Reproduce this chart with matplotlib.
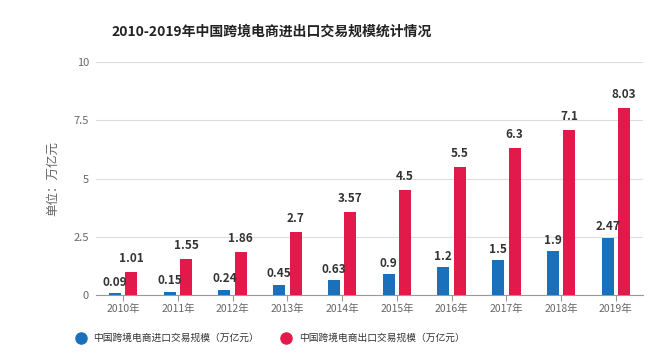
import matplotlib

matplotlib.use("Agg")
import matplotlib.pyplot as plt
import numpy as np
from matplotlib.lines import Line2D

plt.rcParams["font.family"] = ["Noto Sans CJK SC", "DejaVu Sans"]

# 数据（万亿元）
nian = ["2010年", "2011年", "2012年", "2013年", "2014年",
        "2015年", "2016年", "2017年", "2018年", "2019年"]
jinkou = [0.09, 0.15, 0.24, 0.45, 0.63, 0.9, 1.2, 1.5, 1.9, 2.47]
chukou = [1.01, 1.55, 1.86, 2.7, 3.57, 4.5, 5.5, 6.3, 7.1, 8.03]
jinkou_lab = ["0.09", "0.15", "0.24", "0.45", "0.63", "0.9", "1.2", "1.5", "1.9", "2.47"]
chukou_lab = ["1.01", "1.55", "1.86", "2.7", "3.57", "4.5", "5.5", "6.3", "7.1", "8.03"]
y_ticks = [0, 2.5, 5, 7.5, 10]
y_tick_lab = ["0", "2.5", "5", "7.5", "10"]

LAN = "#1a70ba"
HONG = "#e2194b"
HUI = "#666666"

fig = plt.figure(figsize=(6.7, 3.59), dpi=100)
ax = fig.add_axes([0.143, 0.178, 0.817, 0.649])

x = np.arange(len(nian))
w = 0.22
ax.bar(x - 0.15, jinkou, w, color=LAN, zorder=3)
ax.bar(x + 0.15, chukou, w, color=HONG, zorder=3)

for xi, v, s in zip(x, jinkou, jinkou_lab):
    ax.annotate(s, (xi - 0.15, v), textcoords="offset points", xytext=(0, 3),
                ha="center", va="bottom", fontsize=8.5, fontweight="bold",
                color="#333333", zorder=4)
for xi, v, s in zip(x, chukou, chukou_lab):
    ax.annotate(s, (xi + 0.15, v), textcoords="offset points", xytext=(0, 5),
                ha="center", va="bottom", fontsize=8.5, fontweight="bold",
                color="#333333", zorder=4)

ax.set_xlim(-0.5, len(nian) - 0.5)
ax.set_ylim(0, 10)
ax.set_yticks(y_ticks)
ax.set_yticklabels(y_tick_lab)
ax.set_xticks(x)
ax.set_xticklabels(nian)
ax.tick_params(axis="y", length=0, labelsize=8, labelcolor=HUI, pad=5)
ax.tick_params(axis="x", length=4, color="#999999", labelsize=7.5,
               labelcolor=HUI, pad=2)
ax.grid(True, axis="y", color="#dddddd", lw=0.8, zorder=0)
for s in ("top", "right", "left"):
    ax.spines[s].set_visible(False)
ax.spines["bottom"].set_color("#999999")
ax.set_ylabel("单位：万亿元", fontsize=9, color=HUI, labelpad=10)

fig.text(0.405, 0.912, "2010-2019年中国跨境电商进出口交易规模统计情况",
         ha="center", va="center", fontsize=10, fontweight="bold", color="#222222")

handles = [
    Line2D([], [], marker="o", ls="none", color=LAN, markersize=8),
    Line2D([], [], marker="o", ls="none", color=HONG, markersize=8),
]
fig.legend(handles, ["中国跨境电商进口交易规模（万亿元）", "中国跨境电商出口交易规模（万亿元）"],
           loc="center", bbox_to_anchor=(0.40, 0.058), ncol=2, frameon=False,
           fontsize=7, handletextpad=0.3, columnspacing=1.8, labelcolor="#333333")

fig.savefig("out.png", dpi=100)
